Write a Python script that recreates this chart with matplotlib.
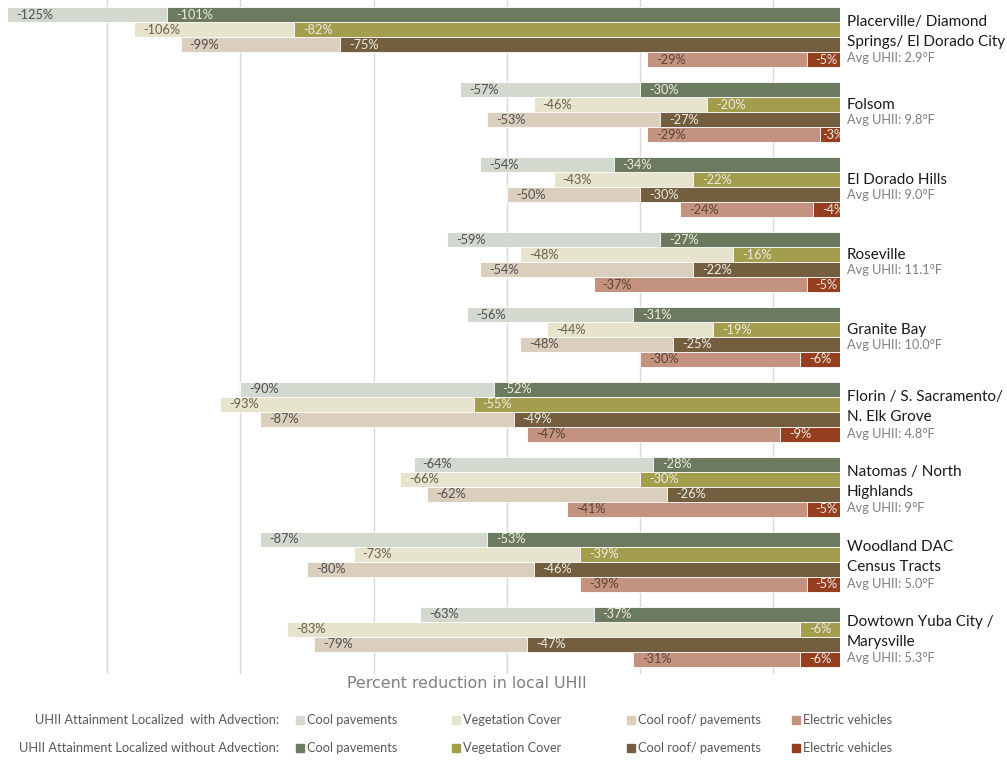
import matplotlib
matplotlib.use("Agg")
import matplotlib.pyplot as plt
from matplotlib.patches import Rectangle

# ---------------- data ----------------
categories = ["Cool pavements", "Vegetation Cover", "Cool roof/ pavements", "Electric vehicles"]
place_lines = [
    ["Placerville/ Diamond", "Springs/ El Dorado City"],
    ["Folsom"],
    ["El Dorado Hills"],
    ["Roseville"],
    ["Granite Bay"],
    ["Florin / S. Sacramento/", "N. Elk Grove"],
    ["Natomas / North", "Highlands"],
    ["Woodland DAC", "Census Tracts"],
    ["Dowtown Yuba City /", "Marysville"],
]
avg_uhii = ["2.9°F", "9.8°F", "9.0°F", "11.1°F", "10.0°F", "4.8°F", "9°F", "5.0°F", "5.3°F"]

# with advection (per place: cool pavements, vegetation, cool roof, EV)
with_adv = [
    [-125, -106, -99, -29],
    [-57, -46, -53, -29],
    [-54, -43, -50, -24],
    [-59, -48, -54, -37],
    [-56, -44, -48, -30],
    [-90, -93, -87, -47],
    [-64, -66, -62, -41],
    [-87, -73, -80, -39],
    [-63, -83, -79, -31],
]
# without advection
without_adv = [
    [-101, -82, -75, -5],
    [-30, -20, -27, -3],
    [-34, -22, -30, -4],
    [-27, -16, -22, -5],
    [-31, -19, -25, -6],
    [-52, -55, -49, -9],
    [-28, -30, -26, -5],
    [-53, -39, -46, -5],
    [-37, -6, -47, -6],
]
grid_vals = [-110, -90, -70, -50, -30, -10]

light_colors = ["#d4d9cf", "#e6e4cc", "#dacebc", "#c4937f"]
dark_colors = ["#6c7a5f", "#a39d4e", "#735f40", "#953f20"]
light_text = ["#505050", "#6a604c", "#555050", "#5a4438"]
dark_text = "#ecebe2"

W, H = 1007, 760
fig = plt.figure(figsize=(W / 100, H / 100), dpi=100)
ax_right = 840
ax_bottom = 674
ax = fig.add_axes([0, 1 - ax_bottom / H, ax_right / W, ax_bottom / H])
XMIN = -126.1
ax.set_xlim(XMIN, 0)
ax.set_ylim(45, 0)
ax.axis("off")

for gv in grid_vals:
    ax.axvline(gv, color="#d9d9d9", lw=1.0, zorder=0)

FONT = "Lato"
px_per_unit = ax_right / (-XMIN)
PAD = 9 / px_per_unit
MAXLEFT = -18 / px_per_unit


def label_x(v):
    return min(v + PAD, MAXLEFT)


for g in range(len(place_lines)):
    for r in range(4):
        yc = 5 * g + 1 + r
        wv = with_adv[g][r]
        nv = without_adv[g][r]
        ax.barh(yc, wv, height=1.0, color=light_colors[r], edgecolor="white", lw=0.6, zorder=2)
        ax.barh(yc, nv, height=1.0, color=dark_colors[r], edgecolor="white", lw=0.6, zorder=3)
        ax.text(label_x(wv), yc, f"{wv}%", ha="left", va="center",
                fontsize=9.2, color=light_text[r], family=FONT, zorder=4, clip_on=True)
        ax.text(label_x(nv), yc, f"{nv}%", ha="left", va="center",
                fontsize=9.2, color=dark_text, family=FONT, zorder=5, clip_on=True)

    # place labels
    lines = place_lines[g]
    xt = 847
    base = 5 * g + 0.5
    if len(lines) == 2:
        pos = [base + 0.5 + 0.45, base + 0.5 + 1.8]
        apos = base + 0.5 + 2.9
    else:
        pos = [base + 0.5 + 1.0]
        apos = base + 0.5 + 1.97
    for ln, p in zip(lines, pos):
        fig.text(xt / W, 1 - (p * 15) / H, ln, ha="left", va="center",
                 fontsize=11.0, color="#1a1a1a", family=FONT)
    fig.text(xt / W, 1 - (apos * 15) / H, "Avg UHII: " + avg_uhii[g], ha="left", va="center",
             fontsize=9.2, color="#7f7f7f", family=FONT)

# axis title
fig.text(467 / W, 1 - 683 / H, "Percent reduction in local UHII", ha="center", va="center",
         fontsize=11.4, color="#7f7f7f", family="DejaVu Sans")

# legend
row_labels = ["UHII Attainment Localized  with Advection:", "UHII Attainment Localized without Advection:"]
row_y = [720, 748]
sq_x = [296, 452, 627, 792]
for i, (lab, yy) in enumerate(zip(row_labels, row_y)):
    fig.text(279 / W, 1 - yy / H, lab, ha="right", va="center", fontsize=9.3, color="#595959", family=FONT)
    cols = light_colors if i == 0 else dark_colors
    for j, cat in enumerate(categories):
        fig.patches.append(Rectangle((sq_x[j] / W, 1 - (yy + 4) / H), 8 / W, 8 / H,
                                     transform=fig.transFigure, color=cols[j]))
        fig.text((sq_x[j] + 11) / W, 1 - yy / H, cat, ha="left", va="center",
                 fontsize=9.2, color="#595959", family=FONT)

fig.savefig("out.png", dpi=100)
